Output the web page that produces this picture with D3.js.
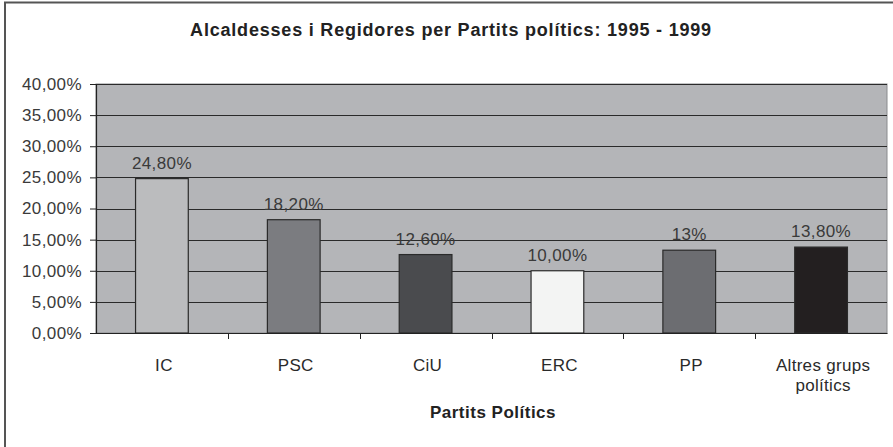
<!DOCTYPE html>
<html>
<head>
<meta charset="utf-8">
<script src="https://cdn.jsdelivr.net/npm/d3@7"></script>
<style>
  body { margin: 0; background: #fff; }
  svg text { font-family: "Liberation Sans", Arial, sans-serif; }
</style>
</head>
<body>
<div id="chart"></div>
<script>
var width = 893,
    height = 447;

// data
var partits = ["IC", "PSC", "CiU", "ERC", "PP", "Altres grups polítics"];
var percents = [24.8, 18.2, 12.6, 10.0, 13.3, 13.8];
var valueLabels = ["24,80%", "18,20%", "12,60%", "10,00%", "13%", "13,80%"];
var barColors = ["#bbbcbe", "#7b7c80", "#4a4b4e", "#f3f4f3", "#6c6d71", "#231f20"];
var yTicks = [0, 5, 10, 15, 20, 25, 30, 35, 40];

var margin = {top: 84, right: 6, bottom: 114, left: 96};

var svg = d3.select("#chart").append("svg")
    .attr("width", width)
    .attr("height", height);

// outer frame
svg.append("rect")
    .attr("x", 5).attr("y", 2.5)
    .attr("width", width + 20).attr("height", height + 20)
    .attr("fill", "#fff")
    .attr("stroke", "#555")
    .attr("stroke-width", 2);

var x = d3.scaleBand()
    .domain(partits)
    .range([margin.left, width - margin.right])
    .padding(0);

var y = d3.scaleLinear()
    .domain([0, 40])
    .range([height - margin.bottom, margin.top]);

// plot area
svg.append("rect")
    .attr("x", margin.left)
    .attr("y", margin.top)
    .attr("width", width - margin.right - margin.left)
    .attr("height", y(0) - margin.top)
    .attr("fill", "#b4b5b8")
    .attr("stroke", "#8a8b8e")
    .attr("stroke-width", 1);

// gridlines
svg.append("g")
  .selectAll("line")
  .data(yTicks.filter(function(d) { return d > 0; }))
  .enter().append("line")
    .attr("x1", margin.left)
    .attr("x2", width - margin.right)
    .attr("y1", function(d) { return Math.round(y(d)) + 0.5; })
    .attr("y2", function(d) { return Math.round(y(d)) + 0.5; })
    .attr("stroke", "#2a2a2a")
    .attr("stroke-width", 1.2);

// bars
var barW = x.bandwidth() * 0.4;
svg.append("g")
  .selectAll("rect")
  .data(partits)
  .enter().append("rect")
    .attr("x", function(d) { return x(d) + (x.bandwidth() - barW) / 2; })
    .attr("y", function(d, i) { return y(percents[i]); })
    .attr("width", barW)
    .attr("height", function(d, i) { return y(0) - y(percents[i]); })
    .attr("fill", function(d, i) { return barColors[i]; })
    .attr("stroke", "#2a2a2a")
    .attr("stroke-width", 1.2);

// value labels
svg.append("g")
  .selectAll("text")
  .data(partits)
  .enter().append("text")
    .attr("x", function(d) { return x(d) + x.bandwidth() / 2; })
    .attr("y", function(d, i) { return y(percents[i]) - 10; })
    .attr("text-anchor", "middle")
    .attr("font-size", 17)
    .attr("letter-spacing", 0.4)
    .attr("fill", "#3a3a3a")
    .text(function(d, i) { return valueLabels[i]; });

// y axis
var yAxis = svg.append("g")
    .attr("transform", "translate(" + margin.left + ",0)")
    .call(d3.axisLeft(y)
      .tickValues(yTicks)
      .tickSize(6)
      .tickPadding(8)
      .tickFormat(function(d) { return d3.format(".2f")(d).replace(".", ",") + "%"; }));
yAxis.select(".domain").attr("stroke", "#222").attr("stroke-width", 1.2);
yAxis.selectAll(".tick line").attr("stroke", "#222");
yAxis.selectAll("text")
    .attr("font-size", 17)
    .attr("letter-spacing", 0.4)
    .attr("fill", "#3a3a3a")
    .style("font-family", "'Liberation Sans', Arial, sans-serif");

// x axis
var xAxis = svg.append("g")
    .attr("transform", "translate(0," + y(0) + ")")
    .call(d3.axisBottom(x).tickSize(0).tickFormat(""));
xAxis.select(".domain").attr("stroke", "#222").attr("stroke-width", 1.2);

// ticks between categories
svg.append("g")
  .selectAll("line")
  .data(partits.slice(1))
  .enter().append("line")
    .attr("x1", function(d) { return Math.round(x(d)) + 0.5; })
    .attr("x2", function(d) { return Math.round(x(d)) + 0.5; })
    .attr("y1", y(0))
    .attr("y2", y(0) + 6)
    .attr("stroke", "#222");

// category labels (wrap the long one)
var catLines = partits.map(function(d) {
  return d == "Altres grups polítics" ? ["Altres grups", "polítics"] : [d];
});
svg.append("g")
  .selectAll("text")
  .data(partits)
  .enter().append("text")
    .attr("x", function(d) { return x(d) + x.bandwidth() / 2 + 2; })
    .attr("y", y(0) + 38)
    .attr("text-anchor", "middle")
    .attr("font-size", 17)
    .attr("letter-spacing", 0.3)
    .attr("fill", "#2a2a2a")
    .each(function(d, i) {
      var t = d3.select(this);
      catLines[i].forEach(function(line, j) {
        t.append("tspan")
          .attr("x", x(d) + x.bandwidth() / 2 + 2)
          .attr("dy", j == 0 ? 0 : 20)
          .text(line);
      });
    });

// axis title
svg.append("text")
    .attr("x", 493)
    .attr("y", 418)
    .attr("text-anchor", "middle")
    .attr("font-size", 17)
    .attr("letter-spacing", 0.5)
    .attr("font-weight", "bold")
    .attr("fill", "#222")
    .text("Partits Polítics");

// chart title
svg.append("text")
    .attr("x", 451)
    .attr("y", 36)
    .attr("text-anchor", "middle")
    .attr("font-size", 18)
    .attr("letter-spacing", 0.8)
    .attr("font-weight", "bold")
    .attr("fill", "#222")
    .text("Alcaldesses i Regidores per Partits polítics: 1995 - 1999");
</script>
</body>
</html>
